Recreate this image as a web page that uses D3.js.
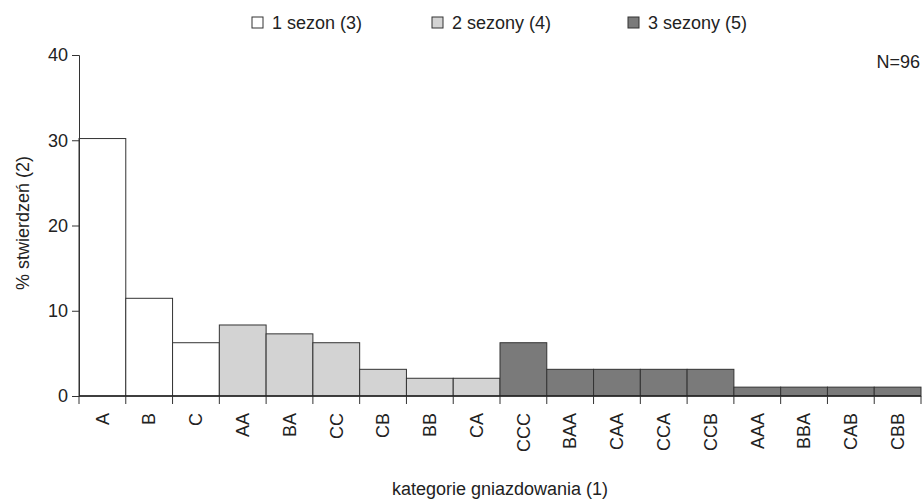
<!DOCTYPE html>
<html>
<head>
<meta charset="utf-8">
<script src="https://cdn.jsdelivr.net/npm/d3@7"></script>
<style>
  body { margin: 0; background: #fff; }
  text { font-family: "Liberation Sans", Arial, sans-serif; fill: #222; }
</style>
</head>
<body>
<svg id="chart"></svg>
<script>
// categories and % values (N=96)
const categories = ["A", "B", "C", "AA", "BA", "CC", "CB", "BB", "CA",
    "CCC", "BAA", "CAA", "CCA", "CCB", "AAA", "BBA", "CAB", "CBB"];
const values = [30.2, 11.46, 6.25, 8.33, 7.29, 6.25, 3.13, 2.08, 2.08,
    6.25, 3.13, 3.13, 3.13, 3.13, 1.04, 1.04, 1.04, 1.04];
const groups = [1, 1, 1, 2, 2, 2, 2, 2, 2, 3, 3, 3, 3, 3, 3, 3, 3, 3];
const legendLabels = ["1 sezon (3)", "2 sezony (4)", "3 sezony (5)"];
const yTicks = [0, 10, 20, 30, 40];

const width = 923, height = 501;
const margin = {top: 55, right: 2, bottom: 105, left: 79};

const colour = d3.scaleOrdinal().domain([1, 2, 3]).range(["#ffffff", "#d3d3d3", "#7a7a7a"]);

const svg = d3.select("#chart")
    .attr("width", width)
    .attr("height", height);

const x = d3.scaleBand()
    .domain(categories)
    .range([margin.left, width - margin.right])
    .padding(0);

const y = d3.scaleLinear()
    .domain([0, 40])
    .range([height - margin.bottom, margin.top]);

// bars
svg.selectAll(".bar")
    .data(categories)
    .join("rect")
    .attr("class", "bar")
    .attr("x", d => x(d))
    .attr("y", (d, i) => y(values[i]))
    .attr("width", x.bandwidth())
    .attr("height", (d, i) => y(0) - y(values[i]))
    .attr("fill", (d, i) => colour(groups[i]))
    .attr("stroke", "#333")
    .attr("stroke-width", 1);

// y axis
const yAxis = svg.append("g")
    .attr("transform", `translate(${margin.left},0)`)
    .call(d3.axisLeft(y).tickValues(yTicks).tickSize(7).tickPadding(4));
yAxis.select(".domain").attr("stroke", "#333");
yAxis.selectAll(".tick line").attr("stroke", "#333");
yAxis.selectAll("text").attr("font-size", 18).attr("fill", "#222");

// x axis: ticks at bar boundaries
const xg = svg.append("g").attr("transform", `translate(0,${y(0)})`);
xg.append("line")
    .attr("x1", margin.left).attr("x2", width - margin.right)
    .attr("stroke", "#222").attr("stroke-width", 1.5);
const edges = categories.map(d => x(d)).concat([x(categories[categories.length - 1]) + x.bandwidth()]);
xg.selectAll(".xt")
    .data(edges)
    .join("line")
    .attr("class", "xt")
    .attr("x1", d => d).attr("x2", d => d)
    .attr("y1", 0).attr("y2", 8)
    .attr("stroke", "#333");
xg.selectAll(".xl")
    .data(categories)
    .join("text")
    .attr("class", "xl")
    .attr("transform", d => `translate(${x(d) + x.bandwidth() / 2},17) rotate(-90)`)
    .attr("text-anchor", "end")
    .attr("dy", "0.35em")
    .attr("font-size", 18)
    .text(d => d);

// axis titles
svg.append("text")
    .attr("x", (margin.left + width - margin.right) / 2)
    .attr("y", 495)
    .attr("text-anchor", "middle")
    .attr("font-size", 18)
    .text("kategorie gniazdowania (1)");

svg.append("text")
    .attr("transform", `translate(29,223) rotate(-90)`)
    .attr("text-anchor", "middle")
    .attr("font-size", 18)
    .text("% stwierdzeń (2)");

svg.append("text")
    .attr("x", 920)
    .attr("y", 68)
    .attr("text-anchor", "end")
    .attr("font-size", 18)
    .text("N=96");

// legend
const legendX = [252, 432, 628];
const legend = svg.selectAll(".leg")
    .data(legendLabels)
    .join("g")
    .attr("class", "leg")
    .attr("transform", (d, i) => `translate(${legendX[i]},17)`);
legend.append("rect")
    .attr("width", 11).attr("height", 11)
    .attr("fill", (d, i) => colour(i + 1))
    .attr("stroke", "#333");
legend.append("text")
    .attr("x", 20).attr("y", 6)
    .attr("dy", "0.35em")
    .attr("font-size", 18)
    .text(d => d);
</script>
</body>
</html>
